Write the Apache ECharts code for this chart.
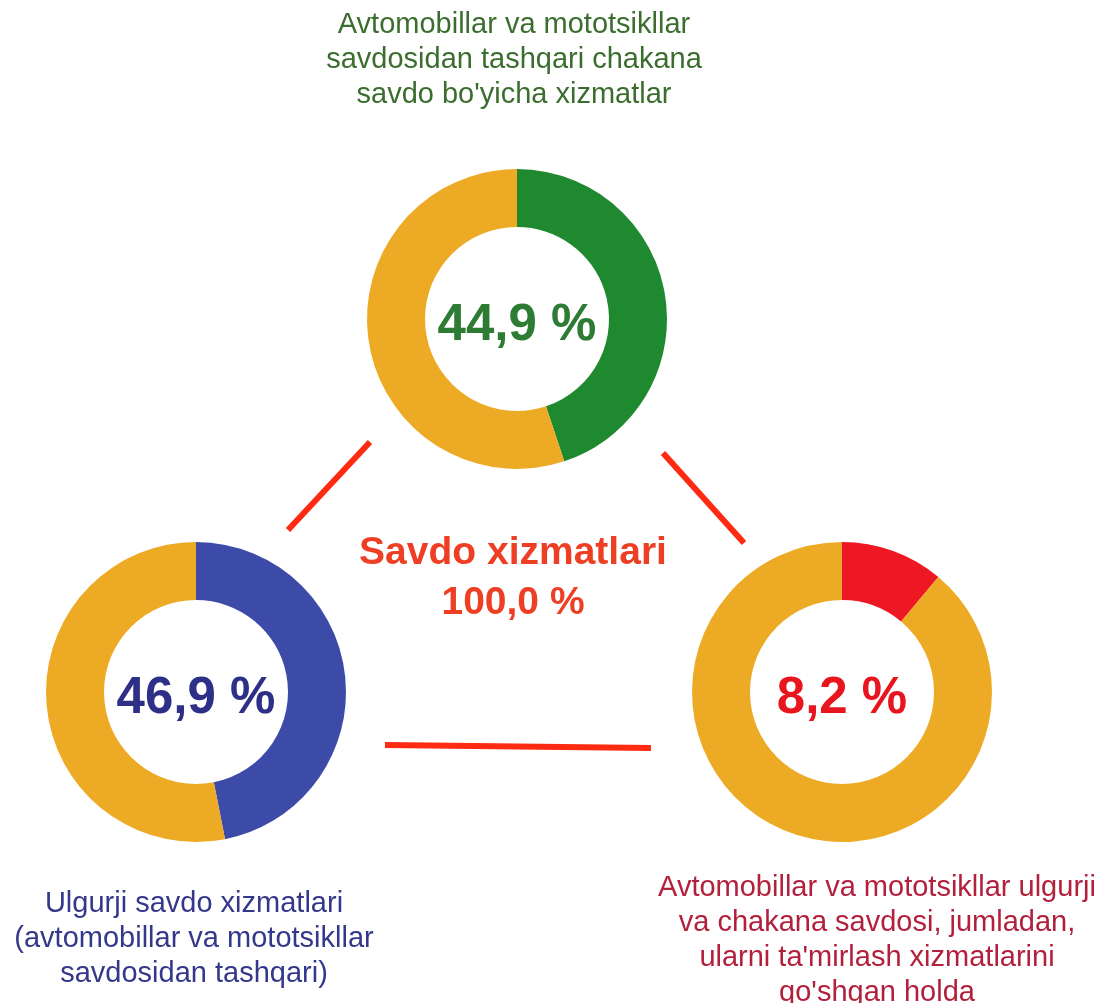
<!DOCTYPE html>
<html>
<head>
<meta charset="utf-8">
<script src="https://cdn.jsdelivr.net/npm/echarts@6/dist/echarts.min.js"></script>
<style>
  html, body { margin: 0; padding: 0; background: #fff; }
  #chart { width: 1099px; height: 1003px; }
</style>
</head>
<body>
<div id="chart"></div>
<script>
// ===== data =====
const sectorNames = [
    "Avtomobillar va mototsikllar\nsavdosidan tashqari chakana\nsavdo bo'yicha xizmatlar",
    "Ulgurji savdo xizmatlari\n(avtomobillar va mototsikllar\nsavdosidan tashqari)",
    "Avtomobillar va mototsikllar ulgurji\nva chakana savdosi, jumladan,\nularni ta'mirlash xizmatlarini\nqo'shgan holda"
];
const shareLabels = ['44,9 %', '46,9 %', '8,2 %'];
// arc sizes as drawn in the picture
const sliceValues = [44.9, 46.9, 11.1];
const totalLabel = 'Savdo xizmatlari\n100,0 %';

// ===== layout / style =====
const ORANGE = '#EDAA24';
const sliceColors = ['#1E892E', '#3D4BA8', '#EE1824'];
const labelColors = ['#2E7B34', '#2E2F86', '#E8141E'];
const captionColors = ['#3B6E2E', '#34388A', '#B3203C'];
const centers = [[517, 319], [196, 692], [842, 692]];
const FONT = '"Liberation Sans", Arial, sans-serif';

const chart = echarts.init(document.getElementById('chart'));

const series = sliceValues.map((v, i) => ({
    type: 'pie',
    center: centers[i],
    radius: [92, 150],
    startAngle: 90,
    clockwise: true,
    silent: true,
    label: { show: false },
    labelLine: { show: false },
    emphasis: { disabled: true },
    data: [
        { value: v, name: sectorNames[i], itemStyle: { color: sliceColors[i] },
          label: { show: true, position: 'center', formatter: shareLabels[i], offset: [0, 7],
                   color: labelColors[i], fontSize: 51, fontWeight: 'bold', fontFamily: FONT } },
        { value: 100 - v, name: 'rest', itemStyle: { color: ORANGE } }
    ]
}));

const redLine = { stroke: '#FF2A12', lineWidth: 6 };
const caption = (x, y, i) => ({
    type: 'text', x: x, y: y,
    style: { text: sectorNames[i], fill: captionColors[i], font: '29px ' + FONT,
             align: 'center', verticalAlign: 'top', lineHeight: 35 }
});

chart.setOption({
    backgroundColor: '#ffffff',
    animation: false,
    series: series,
    graphic: [
        caption(514, 7, 0),
        caption(194, 886, 1),
        caption(877, 870, 2),
        { type: 'text', x: 513, y: 528,
          style: { text: totalLabel, fill: '#EE3F24', font: 'bold 39px ' + FONT,
                   align: 'center', verticalAlign: 'top', lineHeight: 50 } },
        { type: 'line', shape: { x1: 288, y1: 530, x2: 370, y2: 442 }, style: redLine },
        { type: 'line', shape: { x1: 663, y1: 453, x2: 744, y2: 543 }, style: redLine },
        { type: 'line', shape: { x1: 385, y1: 745, x2: 651, y2: 748 }, style: redLine }
    ]
});
</script>
</body>
</html>
